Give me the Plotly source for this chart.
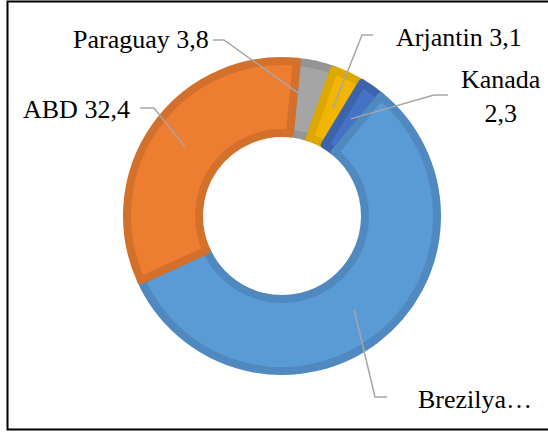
import math
import plotly.graph_objects as go

# slice data, clockwise from the top
labels = ["Paraguay", "Arjantin", "Kanada", "Brezilya", "ABD"]
values = [3.8, 3.1, 2.3, 55.6, 32.4]
label_texts = ["Paraguay 3,8", "Arjantin 3,1", "Kanada<br>2,3", "Brezilya…", "ABD 32,4"]

fill_colors = ["#A5A5A5", "#F2B600", "#4472C4", "#5B9BD5", "#ED7D31"]
edge_colors = ["#959595", "#DDA800", "#3C64AD", "#4F89C0", "#D2702C"]

W, H = 548, 432
CX, CY = 282, 216          # donut centre in pixels
R_OUT, R_IN = 155, 83      # fill radii, the edge line adds 4px each way
ROTATION = 5.5

# label centres (px) and the start of each leader line (px)
label_pos = [(141, 40), (459, 37), (501, 97), (475, 399), (76, 109)]
leader_start = [((224, 40), (213, 40)), ((362, 35), (373, 35)), ((434, 95), (448, 95)),
                ((375, 397), (387, 397)), ((154, 108), (140, 108))]


def paper(x, y):
    return x / W, 1 - y / H


fig = go.Figure()

fig.add_trace(go.Pie(
    labels=labels,
    values=values,
    sort=False,
    direction="clockwise",
    rotation=ROTATION,
    hole=R_IN / R_OUT,
    marker=dict(colors=fill_colors, line=dict(color=edge_colors, width=8)),
    textinfo="none",
    hoverinfo="skip",
    showlegend=False,
    domain=dict(x=[(CX - R_OUT) / W, (CX + R_OUT) / W],
                y=[(H - CY - R_OUT) / H, (H - CY + R_OUT) / H]),
))

# leader lines end in the middle of each ring segment
total = sum(values)
r_mid = (R_OUT + R_IN) / 2
angle = ROTATION
shapes = []
for i, v in enumerate(values):
    span = v / total * 360
    mid = math.radians(angle + span / 2)
    angle += span
    ex, ey = CX + r_mid * math.sin(mid), CY - r_mid * math.cos(mid)
    (kx, ky), (sx, sy) = leader_start[i]
    pts = [paper(sx, sy), paper(kx, ky), paper(ex, ey)]
    path = "M " + " L ".join(f"{px},{py}" for px, py in pts)
    shapes.append(dict(type="path", xref="paper", yref="paper", path=path,
                       line=dict(color="#A6A6A6", width=1.5)))

# chart frame
shapes.append(dict(type="rect", xref="paper", yref="paper",
                   x0=7.5 / W, x1=1.02, y0=1 - 429.5 / H, y1=1 - 1.5 / H,
                   line=dict(color="black", width=2)))

annotations = []
for text, (lx, ly) in zip(label_texts, label_pos):
    ax, ay = paper(lx, ly)
    annotations.append(dict(x=ax, y=ay, xref="paper", yref="paper", text=text,
                            showarrow=False, xanchor="center", yanchor="middle",
                            align="center",
                            font=dict(family="Liberation Serif", size=26, color="black")))

fig.update_layout(
    width=W,
    height=H,
    margin=dict(l=0, r=0, t=0, b=0),
    paper_bgcolor="white",
    plot_bgcolor="white",
    shapes=shapes,
    annotations=annotations,
)

# page has a default 8px body margin, drop it so the chart sits at 0,0
fig.write_html("out.html", config={"displayModeBar": False},
               post_script="document.body.style.margin='0';")
